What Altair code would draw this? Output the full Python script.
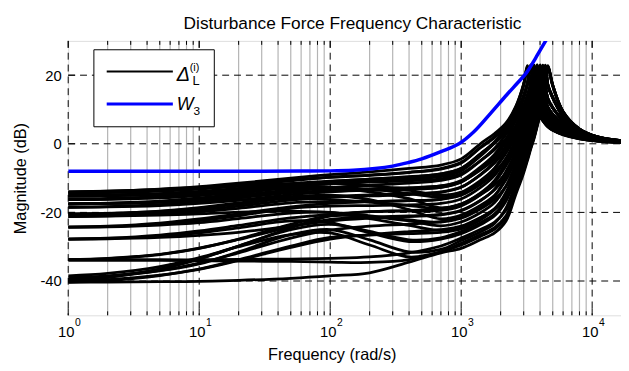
import altair as alt
import pandas as pd

# ---------------- data ----------------
FREQ = [1, 2, 5, 10, 20, 50, 100, 200, 400, 700,
        1000, 1400, 1800, 2200, 2600, 3000,
        3200, 3400, 3600, 3800, 4000, 4200, 4400, 4600,
        5000, 6000, 8000, 11000, 16700]

curve_01 = [-14.0, -13.8, -13.2, -12.5, -11.5, -10.0, -9.0, -8.2, -7.2, -6.2, -4.4, 0.0, 3.0, 6.1, 10.8, 17.5, 22.5, 16.0, 12.5, 10.0, 8.0, 6.8, 5.8, 5.0, 4.0, 2.7, 1.5, 0.8, 0.4]
curve_02 = [-14.3, -14.1, -13.6, -13.0, -12.2, -10.8, -9.7, -9.1, -8.3, -7.2, -5.4, -1.0, 2.2, 5.6, 10.5, 17.4, 22.0, 15.5, 12.2, 9.8, 7.9, 6.7, 5.7, 4.9, 3.9, 2.6, 1.45, 0.8, 0.4]
curve_03 = [-15.2, -15.0, -14.5, -13.9, -13.0, -11.6, -10.9, -10.3, -9.7, -8.8, -7.1, -2.9, 0.4, 3.9, 8.2, 13.9, 17.6, 22.5, 16.0, 12.5, 10.0, 8.3, 7.0, 6.2, 5.0, 3.3, 1.8, 1.0, 0.5]
curve_04 = [-16.3, -16.2, -15.8, -15.1, -14.1, -12.5, -11.5, -10.8, -10.0, -9.1, -7.4, -3.1, 0.6, 4.6, 9.9, 17.2, 22.8, 16.2, 12.6, 10.1, 8.1, 6.9, 5.9, 5.1, 4.1, 2.8, 1.55, 0.85, 0.4]
curve_05 = [-17.5, -17.4, -17.0, -16.4, -15.4, -13.8, -12.8, -12.1, -11.5, -10.7, -9.1, -5.0, -1.3, 2.7, 7.5, 13.5, 17.4, 23.0, 16.3, 12.7, 10.1, 8.4, 7.1, 6.3, 5.1, 3.4, 1.85, 1.0, 0.5]
curve_06 = [-18.5, -18.4, -18.0, -17.4, -16.5, -14.8, -14.0, -13.5, -13.0, -12.3, -10.7, -6.8, -3.2, 0.8, 5.2, 10.4, 13.7, 17.4, 22.6, 16.0, 12.5, 10.0, 8.5, 7.4, 6.0, 4.0, 2.2, 1.2, 0.55]
curve_07 = [-14.8, -14.8, -14.7, -14.5, -14.0, -13.0, -13.3, -13.5, -13.3, -12.7, -11.1, -7.2, -3.1, 1.5, 6.7, 13.1, 17.2, 22.2, 15.8, 12.3, 9.9, 8.2, 6.9, 6.1, 4.9, 3.2, 1.75, 0.95, 0.5]
curve_08 = [-20.5, -20.4, -20.0, -19.3, -18.2, -16.4, -15.6, -15.2, -14.8, -14.2, -12.7, -9.0, -5.2, -0.6, 4.3, 9.8, 13.3, 17.2, 22.9, 16.2, 12.7, 10.1, 8.6, 7.5, 6.1, 4.1, 2.25, 1.2, 0.55]
curve_09 = [-16.0, -15.9, -15.4, -14.7, -13.6, -12.0, -11.5, -12.2, -13.6, -15.0, -14.1, -10.7, -7.2, -2.7, 1.9, 7.0, 10.0, 13.4, 17.3, 22.4, 16.0, 12.5, 10.2, 8.8, 7.2, 4.8, 2.6, 1.4, 0.6]
curve_10 = [-21.2, -21.0, -20.5, -19.8, -18.8, -17.2, -16.9, -16.8, -16.6, -16.1, -14.7, -11.1, -7.1, -2.0, 3.4, 9.3, 13.0, 17.0, 22.3, 15.8, 12.4, 9.9, 8.4, 7.3, 5.9, 3.9, 2.15, 1.15, 0.55]
curve_11 = [-24.3, -24.1, -23.4, -22.4, -21.0, -18.8, -18.2, -18.0, -17.8, -17.4, -16.1, -12.8, -9.2, -4.2, 0.9, 6.3, 9.5, 13.1, 17.1, 23.0, 16.3, 12.7, 10.3, 8.9, 7.3, 4.9, 2.65, 1.4, 0.6]
curve_12 = [-17.5, -17.4, -16.9, -16.2, -15.0, -13.5, -13.0, -14.0, -16.0, -18.7, -17.5, -14.5, -11.1, -6.4, -1.4, 4.0, 6.6, 9.8, 13.3, 17.4, 22.2, 16.0, 12.8, 10.5, 8.5, 5.7, 3.0, 1.6, 0.7]
curve_13 = [-40.0, -39.0, -36.5, -33.5, -29.8, -24.5, -21.0, -19.8, -19.6, -19.4, -18.1, -14.9, -11.2, -5.7, -0.2, 5.6, 9.0, 12.7, 16.9, 22.5, 15.9, 12.4, 10.1, 8.7, 7.1, 4.7, 2.55, 1.35, 0.6]
curve_14 = [-27.8, -27.7, -27.3, -26.7, -25.8, -24.0, -22.5, -21.7, -21.2, -20.7, -19.5, -16.6, -13.2, -8.0, -2.5, 3.2, 6.0, 9.3, 13.0, 17.2, 22.8, 16.3, 13.0, 10.6, 8.6, 5.8, 3.05, 1.6, 0.7]
curve_15 = [-20.5, -20.3, -19.6, -18.6, -17.2, -15.4, -15.0, -16.3, -19.2, -21.9, -20.8, -18.0, -15.0, -10.5, -4.9, 0.6, 3.5, 6.3, 9.6, 13.3, 17.3, 22.9, 16.8, 13.2, 10.6, 6.9, 3.55, 1.8, 0.75]
curve_16 = [-39.5, -38.8, -37.0, -34.8, -31.8, -27.5, -25.2, -24.0, -23.4, -22.7, -21.5, -18.6, -15.3, -9.7, -3.7, 2.4, 5.3, 8.8, 12.7, 17.1, 22.5, 15.9, 12.7, 10.4, 8.4, 5.6, 2.95, 1.55, 0.7]
curve_17 = [-33.8, -33.5, -32.3, -30.5, -27.8, -23.5, -21.0, -21.2, -22.5, -23.9, -22.8, -20.1, -17.1, -12.3, -6.2, -0.3, 2.8, 5.7, 9.1, 13.0, 17.2, 22.3, 16.4, 12.9, 10.4, 6.7, 3.45, 1.75, 0.75]
curve_18 = [-24.3, -24.2, -23.7, -23.0, -21.8, -20.2, -20.0, -21.8, -23.8, -25.2, -24.2, -21.6, -18.9, -14.8, -8.6, -2.8, 0.1, 3.0, 6.0, 9.5, 13.2, 17.3, 22.7, 17.0, 13.5, 8.0, 3.9, 1.9, 0.8]
curve_19 = [-40.4, -39.9, -38.4, -36.5, -33.8, -29.8, -27.3, -26.6, -26.2, -25.8, -24.8, -22.2, -19.2, -14.1, -7.5, -1.2, 2.0, 5.0, 8.7, 12.7, 17.0, 22.6, 16.6, 13.0, 10.5, 6.8, 3.5, 1.8, 0.75]
curve_20 = [-27.8, -27.6, -27.0, -26.0, -24.5, -22.5, -23.0, -26.0, -28.5, -27.8, -26.2, -23.6, -21.0, -16.7, -10.0, -3.8, -0.7, 2.3, 5.5, 9.1, 12.9, 17.1, 22.4, 16.8, 13.3, 7.9, 3.85, 1.9, 0.8]
curve_21 = [-33.8, -33.8, -33.8, -33.8, -33.7, -33.6, -33.4, -33.0, -31.8, -29.8, -27.5, -25.0, -22.8, -19.4, -12.6, -6.7, -3.5, -0.3, 2.6, 5.8, 9.2, 12.9, 17.2, 22.3, 16.8, 9.2, 4.25, 2.0, 0.9]
curve_22 = [-39.0, -38.5, -37.0, -35.0, -31.5, -26.5, -25.0, -28.0, -31.5, -30.8, -28.2, -25.7, -23.2, -18.7, -11.5, -4.9, -1.6, 1.5, 4.9, 8.6, 12.6, 17.0, 22.9, 17.1, 13.6, 8.1, 3.95, 1.95, 0.8]
curve_23 = [-38.5, -37.8, -35.8, -33.2, -30.0, -26.5, -26.0, -29.5, -33.0, -31.5, -29.5, -27.0, -24.9, -21.5, -14.2, -7.9, -4.5, -1.1, 1.8, 5.3, 8.7, 12.6, 17.1, 22.8, 17.2, 9.4, 4.35, 2.05, 0.9]
curve_24 = [-40.3, -40.3, -40.2, -40.1, -39.8, -39.2, -38.5, -37.6, -34.5, -31.8, -30.5, -28.0, -26.0, -22.5, -15.0, -8.5, -5.0, -1.5, 1.5, 5.0, 8.5, 12.5, 17.0, 22.5, 17.0, 9.3, 4.3, 2.0, 0.9]
curve_25 = [-14.0, -13.8, -13.3, -12.7, -11.8, -10.4, -9.8, -9.2, -8.4, -7.4, -5.6, -1.2, 1.8, 4.8, 8.8, 14.2, 17.75, 22.6, 16.1, 12.6, 10.1, 8.4, 7.1, 6.3, 5.1, 3.4, 1.85, 1.0, 0.5]
curve_26 = [-15.2, -15.1, -14.7, -14.2, -13.4, -12.0, -11.0, -10.3, -9.6, -8.8, -7.2, -3.1, 0.2, 3.2, 6.7, 11.3, 14.3, 17.8, 22.7, 16.1, 12.6, 10.1, 8.6, 7.5, 6.1, 4.05, 2.2, 1.2, 0.55]
curve_27 = [-16.3, -16.1, -15.6, -14.9, -13.9, -12.4, -11.7, -11.2, -10.8, -10.2, -8.7, -5.0, -1.7, 1.5, 4.7, 8.9, 11.5, 14.4, 17.8, 22.6, 16.1, 12.6, 10.3, 8.9, 7.3, 4.85, 2.6, 1.4, 0.6]
curve_28 = [-17.5, -17.3, -16.7, -15.8, -14.5, -12.6, -11.6, -10.9, -10.3, -9.6, -7.9, -3.6, 0.3, 4.4, 9.75, 17.1, 22.2, 15.8, 12.4, 9.9, 7.9, 6.8, 5.8, 5.0, 4.0, 2.7, 1.5, 0.8, 0.4]
curve_29 = [-18.5, -18.3, -17.7, -16.9, -15.8, -14.2, -13.6, -13.2, -12.8, -12.3, -11.0, -7.7, -4.4, -1.0, 2.5, 6.7, 8.7, 11.4, 14.4, 17.9, 22.4, 16.1, 12.9, 10.6, 8.6, 5.75, 3.0, 1.6, 0.7]
curve_30 = [-14.3, -14.2, -13.8, -13.2, -12.4, -11.6, -11.5, -12.3, -13.0, -12.7, -11.2, -7.4, -3.7, 0.4, 4.9, 10.2, 13.6, 17.4, 22.4, 16.0, 12.5, 10.0, 8.5, 7.4, 6.0, 4.0, 2.2, 1.2, 0.55]
curve_31 = [-20.5, -20.3, -19.7, -18.8, -17.6, -15.8, -15.3, -14.9, -14.5, -14.0, -12.6, -9.1, -5.6, -1.5, 2.7, 7.6, 10.5, 13.7, 17.4, 22.9, 16.2, 12.7, 10.3, 8.9, 7.3, 4.85, 2.6, 1.4, 0.6]
curve_32 = [-15.2, -15.1, -14.8, -14.3, -13.6, -12.8, -12.6, -13.2, -14.5, -15.5, -14.3, -11.3, -8.1, -4.6, -0.5, 3.7, 6.0, 8.3, 11.1, 14.3, 17.9, 22.5, 16.6, 13.0, 10.5, 6.8, 3.5, 1.8, 0.75]
curve_33 = [-24.3, -24.0, -23.1, -21.9, -20.4, -18.4, -17.4, -16.9, -16.6, -16.2, -15.0, -11.9, -8.5, -4.3, 0.1, 5.0, 7.4, 10.4, 13.7, 17.6, 23.0, 16.3, 13.0, 10.6, 8.6, 5.8, 3.05, 1.6, 0.7]
curve_34 = [-17.5, -17.4, -17.1, -16.7, -16.3, -16.0, -16.3, -17.0, -18.0, -18.8, -17.7, -14.9, -12.0, -8.5, -3.9, 0.6, 3.0, 5.4, 8.0, 11.0, 14.2, 17.8, 22.6, 17.0, 13.5, 8.0, 3.9, 1.9, 0.8]
curve_35 = [-27.8, -27.5, -26.6, -25.4, -23.8, -21.6, -20.6, -19.8, -19.4, -18.9, -17.6, -14.4, -10.7, -5.3, 0.1, 5.8, 9.2, 12.8, 17.0, 22.2, 15.9, 12.4, 10.1, 8.7, 7.1, 4.7, 2.55, 1.35, 0.6]
curve_36 = [-33.8, -33.4, -32.2, -30.4, -27.9, -24.2, -22.0, -21.4, -21.0, -20.6, -19.4, -16.5, -13.4, -9.2, -3.9, 1.3, 4.1, 6.7, 10.0, 13.5, 17.5, 22.7, 16.6, 13.0, 10.5, 6.8, 3.5, 1.8, 0.75]
curve_37 = [-21.2, -21.1, -20.8, -20.4, -19.9, -19.6, -20.0, -21.0, -22.2, -22.8, -21.7, -19.0, -16.2, -12.4, -6.8, -1.5, 1.2, 3.9, 6.8, 10.1, 13.6, 17.5, 22.3, 16.9, 13.4, 7.95, 3.9, 1.9, 0.8]
curve_38 = [-40.0, -39.6, -38.3, -36.6, -34.0, -30.2, -27.8, -26.5, -25.6, -25.0, -24.0, -21.5, -19.1, -15.9, -9.9, -4.7, -1.8, 1.2, 3.8, 6.8, 9.9, 13.4, 17.5, 22.6, 17.0, 9.3, 4.3, 2.0, 0.9]
curve_39 = [-39.5, -38.7, -36.5, -33.6, -29.8, -25.0, -23.5, -25.5, -28.0, -27.4, -25.6, -23.0, -20.4, -16.2, -9.6, -3.5, -0.5, 2.5, 5.6, 9.2, 13.0, 17.2, 22.8, 17.1, 13.6, 8.1, 3.95, 1.95, 0.8]
curve_40 = [-34.0, -34.0, -34.0, -34.1, -34.2, -34.3, -34.5, -34.6, -33.8, -31.5, -29.0, -26.5, -24.4, -21.0, -13.8, -7.6, -4.3, -0.9, 2.0, 5.4, 8.8, 12.7, 17.1, 22.4, 17.1, 9.35, 4.3, 2.0, 0.9]

CURVES = [curve_01, curve_02, curve_03, curve_04, curve_05, curve_06, curve_07, curve_08,
          curve_09, curve_10, curve_11, curve_12, curve_13, curve_14, curve_15, curve_16,
          curve_17, curve_18, curve_19, curve_20, curve_21, curve_22, curve_23, curve_24,
          curve_25, curve_26, curve_27, curve_28, curve_29, curve_30, curve_31, curve_32,
          curve_33, curve_34, curve_35, curve_36, curve_37, curve_38, curve_39, curve_40]

W3_FREQ = [1, 10, 30, 60, 100, 150, 220, 300, 393, 500, 700, 962, 1250, 1670, 2230, 2700, 3135, 3700, 4415, 5000]
W3_DB = [-8.0, -8.0, -8.0, -7.95, -7.9, -7.7, -7.2, -6.5, -5.5, -4.4, -2.3, 0.0, 3.5, 8.8, 14.3, 17.8, 20.6, 25.0, 30.0, 33.5]

MAJOR_X = [1, 10, 100, 1000, 10000]
EXPONENTS = ["0", "1", "2", "3", "4"]
MINOR_X = [2, 3, 4, 5, 6, 7, 8, 9,
           20, 30, 40, 50, 60, 70, 80, 90,
           200, 300, 400, 500, 600, 700, 800, 900,
           2000, 3000, 4000, 5000, 6000, 7000, 8000, 9000]
MAJOR_Y = [-40, -20, 0, 20]
X_DOMAIN = [1, 16600]
Y_DOMAIN = [-50, 30]

TITLE = "Disturbance Force Frequency Characteristic"
X_TITLE = "Frequency (rad/s)"
Y_TITLE = "Magnitude (dB)"

# ---------------- build ----------------
W, H = 560, 278
FONT = "Liberation Sans"

rows = []
for k, c in enumerate(CURVES):
    for f, v in zip(FREQ, c):
        rows.append({"curve": k, "f": f, "db": v})
df_curves = pd.DataFrame(rows)
df_w3 = pd.DataFrame({"f": W3_FREQ, "db": W3_DB})
df_major_x = pd.DataFrame({"f": MAJOR_X, "exp": EXPONENTS})
df_minor_x = pd.DataFrame({"f": MINOR_X})
df_major_y = pd.DataFrame({"db": MAJOR_Y})
df_one = pd.DataFrame({"k": [0]})

xs = alt.Scale(type="log", domain=X_DOMAIN, nice=False)
ys = alt.Scale(domain=Y_DOMAIN, nice=False)

x_axis = alt.Axis(labels=False, ticks=False, domain=False, grid=False,
                  title=X_TITLE, titleFontSize=16.5, titleFontWeight="normal",
                  titleFont=FONT, titleColor="black",
                  titleX=267, titleY=45, titleBaseline="alphabetic", titleAlign="center")
y_axis = alt.Axis(values=MAJOR_Y, ticks=False, domain=False, grid=False,
                  labelExpr="'' + datum.value",
                  labelFontSize=15, labelFont=FONT, labelColor="black", labelPadding=7,
                  title=Y_TITLE, titleFontSize=16.5, titleFontWeight="normal",
                  titleFont=FONT, titleColor="black",
                  titleX=-43, titleY=H / 2, titleBaseline="alphabetic", titleAlign="center",
                  titleAngle=270)

X = alt.X("f:Q", scale=xs, axis=x_axis)
Y = alt.Y("db:Q", scale=ys, axis=y_axis)

minor_grid = alt.Chart(df_minor_x).mark_rule(color="#b4b4b4", strokeWidth=1.2).encode(
    x=X, y=alt.value(0), y2=alt.value(H))
major_vgrid = alt.Chart(df_major_x).mark_rule(color="black", strokeWidth=1, strokeDash=[7, 5]).encode(
    x=X, y=alt.value(0), y2=alt.value(H))
major_hgrid = alt.Chart(df_major_y).mark_rule(color="black", strokeWidth=1, strokeDash=[7, 5]).encode(
    y=Y, x=alt.value(0), x2=alt.value(W))

lines = alt.Chart(df_curves).mark_line(color="black", strokeWidth=2.8, clip=True,
                                       interpolate="catmull-rom").encode(
    x=X, y=Y, detail="curve:N", order="f:Q")
w3 = alt.Chart(df_w3).mark_line(color="#0000ff", strokeWidth=3.5, clip=True,
                                interpolate="catmull-rom").encode(x=X, y=Y, order="f:Q")

# inner tick marks
tick_bot_minor = alt.Chart(df_minor_x).mark_rule(color="black").encode(x=X, y=alt.value(H), y2=alt.value(H - 4))
tick_top_minor = alt.Chart(df_minor_x).mark_rule(color="black").encode(x=X, y=alt.value(0), y2=alt.value(4))
tick_bot_major = alt.Chart(df_major_x).mark_rule(color="black").encode(x=X, y=alt.value(H), y2=alt.value(H - 7))
tick_top_major = alt.Chart(df_major_x).mark_rule(color="black").encode(x=X, y=alt.value(0), y2=alt.value(7))
tick_left = alt.Chart(df_major_y).mark_rule(color="black").encode(y=Y, x=alt.value(0), x2=alt.value(7))

# x tick labels 10^k
lab_base = alt.Chart(df_major_x).mark_text(fontSize=15, font=FONT, color="black", align="center",
                                           baseline="alphabetic", dx=-2).encode(
    x=X, y=alt.value(H + 22), text=alt.value("10"))
lab_exp = alt.Chart(df_major_x).mark_text(fontSize=10.5, font=FONT, color="black", align="left",
                                          baseline="alphabetic", dx=7).encode(
    x=X, y=alt.value(H + 11), text="exp:N")

# title as text (placed above the plot)
title_txt = alt.Chart(df_one).mark_text(fontSize=17.5, font=FONT, color="black", align="center",
                                        baseline="alphabetic").encode(
    x=alt.value(W / 2 + 8), y=alt.value(-12.3), text=alt.value(TITLE))

# legend
leg_box = alt.Chart(df_one).mark_rect(fill="white", stroke="black", strokeWidth=1).encode(
    x=alt.value(26), x2=alt.value(148), y=alt.value(9), y2=alt.value(87))
leg_black = alt.Chart(df_one).mark_rule(color="black", strokeWidth=2).encode(
    x=alt.value(39), x2=alt.value(106), y=alt.value(31))
leg_blue = alt.Chart(df_one).mark_rule(color="#0000ff", strokeWidth=3).encode(
    x=alt.value(39), x2=alt.value(106), y=alt.value(64))
leg_delta = alt.Chart(df_one).mark_text(fontSize=20, font=FONT, fontStyle="italic", color="black",
                                        align="left", baseline="alphabetic").encode(
    x=alt.value(110), y=alt.value(41), text=alt.value("Δ"))
leg_sup = alt.Chart(df_one).mark_text(fontSize=11, font=FONT, color="black",
                                      align="left", baseline="alphabetic").encode(
    x=alt.value(123), y=alt.value(30), text=alt.value("(i)"))
leg_sub = alt.Chart(df_one).mark_text(fontSize=13, font=FONT, color="black",
                                      align="left", baseline="alphabetic").encode(
    x=alt.value(126), y=alt.value(45), text=alt.value("L"))
leg_w = alt.Chart(df_one).mark_text(fontSize=18, font=FONT, fontStyle="italic", color="black",
                                    align="left", baseline="alphabetic").encode(
    x=alt.value(110), y=alt.value(70), text=alt.value("W"))
leg_3 = alt.Chart(df_one).mark_text(fontSize=12, font=FONT, color="black",
                                    align="left", baseline="alphabetic").encode(
    x=alt.value(127), y=alt.value(75), text=alt.value("3"))

chart = alt.layer(
    minor_grid, major_vgrid, major_hgrid, lines, w3,
    tick_bot_minor, tick_top_minor, tick_bot_major, tick_top_major, tick_left,
    lab_base, lab_exp, title_txt,
    leg_box, leg_black, leg_blue, leg_delta, leg_sup, leg_sub, leg_w, leg_3,
).properties(
    width=W, height=H,
    autosize=alt.AutoSizeParams(type="none"),
    padding={"left": 61, "top": 31, "right": 0, "bottom": 46},
).configure_view(stroke="black", strokeWidth=1).configure(background="white")

chart.save("out.html", embed_options={"renderer": "svg", "actions": False})
